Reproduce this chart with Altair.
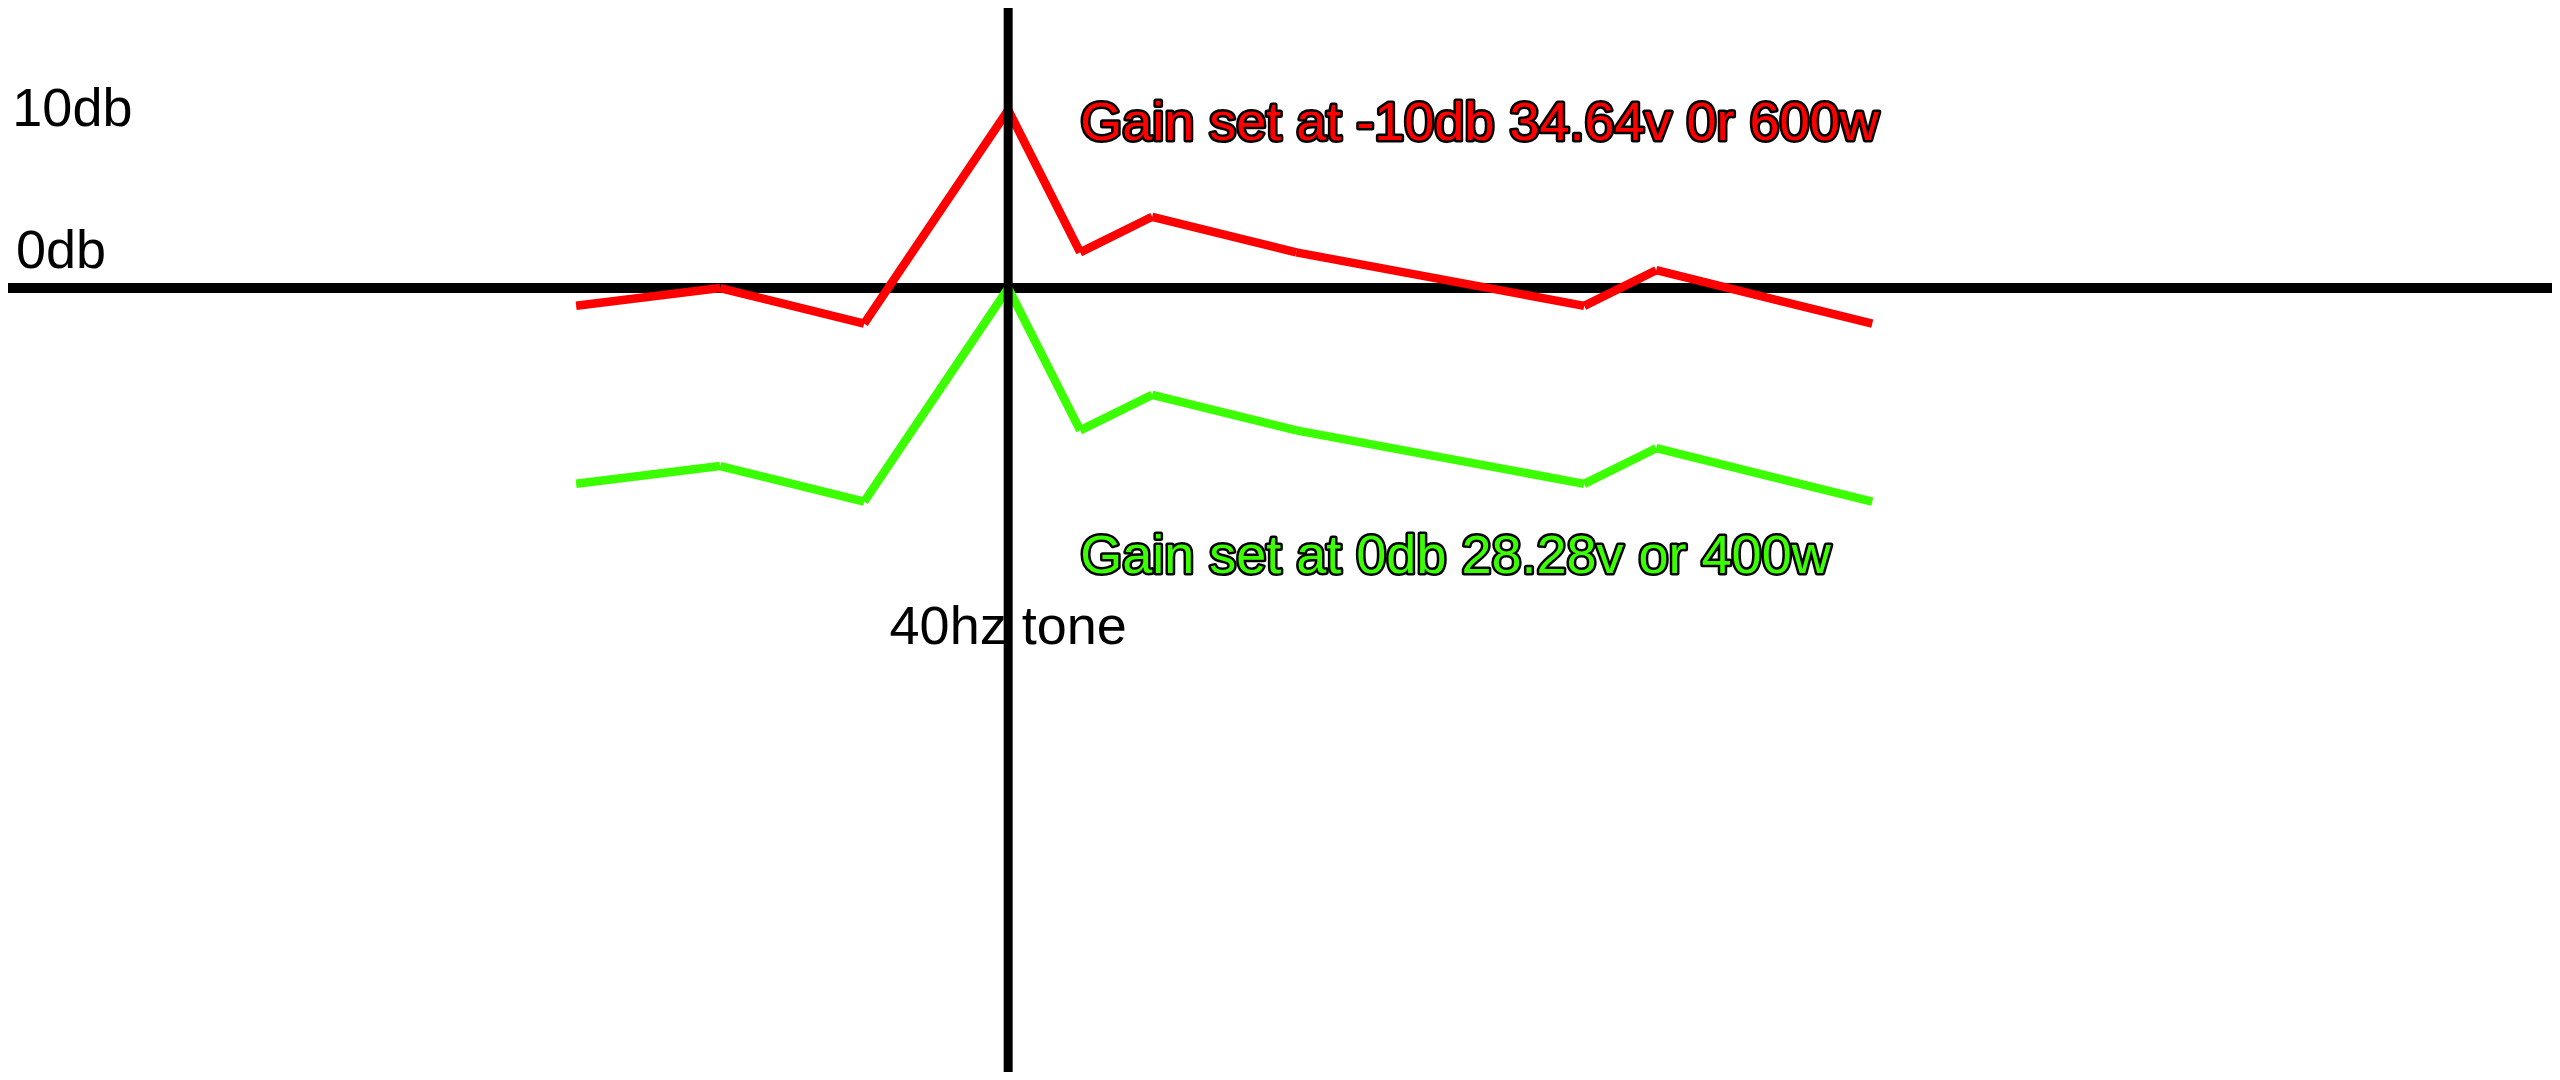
import altair as alt
import pandas as pd

# x positions (steps relative to the 40 Hz tone) and response in dB
steps = [-6, -4, -2, 0, 1, 2, 4, 8, 9, 12]
gain_minus10 = [-1, 0, -2, 10, 2, 4, 2, -1, 1, -2]
gain_0 = [-11, -10, -12, 0, -8, -6, -8, -11, -9, -12]

series_names = ["Gain set at -10db 34.64v 0r 600w", "Gain set at 0db 28.28v or 400w"]
series_colors = ["#FF0000", "#3BFF00"]

# plain black labels
plain_text = ["10db", "0db", "40hz tone"]
plain_x = [-13.83, -13.78, 0]
plain_y = [9.1, 1.12, -20]
plain_align = ["left", "left", "center"]

# outlined captions
cap_x = [1.0, 1.0]
cap_y = [8.31, -16.0]

X_DOMAIN = [-13.89, 21.44]
Y_DOMAIN = [-44.04, 15.73]

# line segments between consecutive points (drawn as separate strokes)
seg_rows = []
for name, vals in zip(series_names, [gain_minus10, gain_0]):
    for i in range(len(steps) - 1):
        seg_rows.append({"x": steps[i], "x2": steps[i + 1], "y": vals[i], "y2": vals[i + 1], "series": name})
seg_df = pd.DataFrame(seg_rows)

plain_df = pd.DataFrame({"text": plain_text, "x": plain_x, "y": plain_y, "align": plain_align})
cap_df = pd.DataFrame({"text": series_names, "x": cap_x, "y": cap_y, "series": series_names})

xs = alt.Scale(domain=X_DOMAIN, nice=False, zero=False)
ys = alt.Scale(domain=Y_DOMAIN, nice=False, zero=False)
cscale = alt.Scale(domain=series_names, range=series_colors)

hrule = alt.Chart(pd.DataFrame({"y": [0]})).mark_rule(color="black", strokeWidth=10).encode(
    y=alt.Y("y:Q", scale=ys, axis=None)
)
vrule = alt.Chart(pd.DataFrame({"x": [0]})).mark_rule(color="black", strokeWidth=9).encode(
    x=alt.X("x:Q", scale=xs, axis=None)
)

segments = alt.Chart(seg_df).mark_rule(strokeWidth=8.5, strokeCap="butt").encode(
    x=alt.X("x:Q", scale=xs, axis=None),
    x2="x2:Q",
    y=alt.Y("y:Q", scale=ys, axis=None),
    y2="y2:Q",
    color=alt.Color("series:N", scale=cscale, legend=None),
)

font = "Liberation Sans, Arial, Helvetica, sans-serif"

plain_left = alt.Chart(plain_df[plain_df["align"] == "left"]).mark_text(
    font=font, fontSize=54, align="left", baseline="alphabetic", color="black"
).encode(
    x=alt.X("x:Q", scale=xs, axis=None),
    y=alt.Y("y:Q", scale=ys, axis=None),
    text="text:N",
)
plain_center = alt.Chart(plain_df[plain_df["align"] == "center"]).mark_text(
    font=font, fontSize=54, align="center", baseline="alphabetic", color="black"
).encode(
    x=alt.X("x:Q", scale=xs, axis=None),
    y=alt.Y("y:Q", scale=ys, axis=None),
    text="text:N",
)

cap_outline = alt.Chart(cap_df).mark_text(
    font=font, fontSize=54, align="left", baseline="alphabetic",
    fill="black", stroke="black", strokeWidth=5, strokeJoin="round"
).encode(
    x=alt.X("x:Q", scale=xs, axis=None),
    y=alt.Y("y:Q", scale=ys, axis=None),
    text="text:N",
)
cap_fill = alt.Chart(cap_df).mark_text(
    font=font, fontSize=54, align="left", baseline="alphabetic"
).encode(
    x=alt.X("x:Q", scale=xs, axis=None),
    y=alt.Y("y:Q", scale=ys, axis=None),
    text="text:N",
    color=alt.Color("series:N", scale=cscale, legend=None),
)

chart = alt.layer(hrule, segments, vrule, plain_left, plain_center, cap_outline, cap_fill).properties(
    width=2544, height=1064, padding=0, autosize=alt.AutoSizeParams(type="none"),
    background="white",
).configure_view(stroke=None)

chart.save("out.html", embed_options={"renderer": "svg", "actions": False})
